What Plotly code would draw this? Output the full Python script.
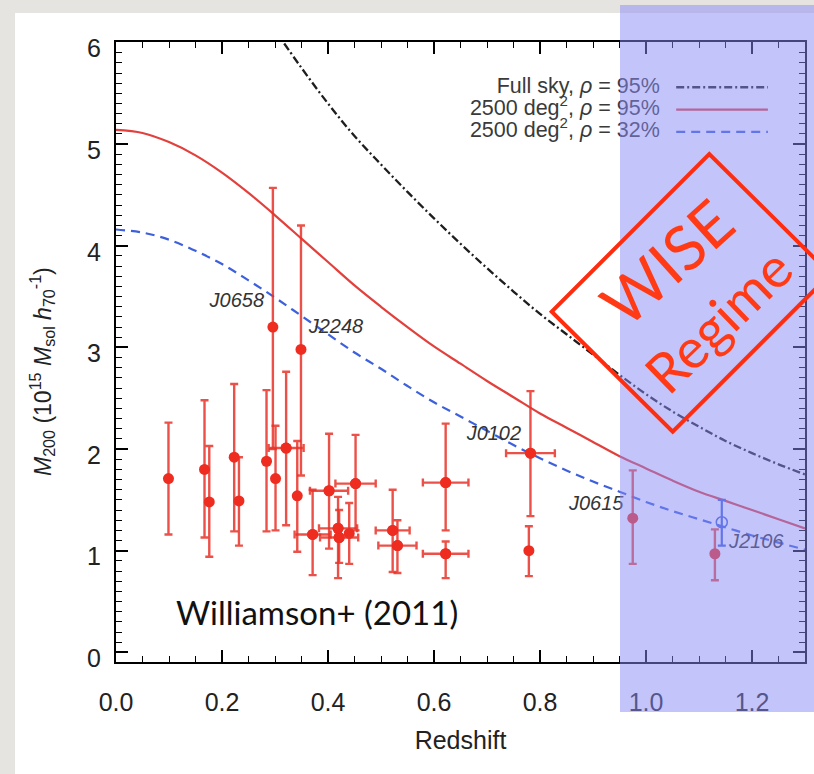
import plotly.graph_objects as go

# ---------------- data ----------------
z_curve = [0.00, 0.05, 0.10, 0.15, 0.20, 0.25, 0.30, 0.35, 0.40, 0.45, 0.50, 0.55, 0.60,
           0.65, 0.70, 0.75, 0.80, 0.85, 0.90, 0.95, 1.00, 1.05, 1.10, 1.15, 1.20, 1.25, 1.30]
m_2500_95 = [5.14, 5.11, 5.02, 4.89, 4.72, 4.52, 4.30, 4.07, 3.84, 3.61, 3.40, 3.20, 3.01,
             2.84, 2.67, 2.51, 2.35, 2.21, 2.07, 1.93, 1.81, 1.69, 1.58, 1.49, 1.40, 1.31, 1.22]
m_2500_32 = [4.16, 4.13, 4.06, 3.95, 3.82, 3.66, 3.49, 3.31, 3.13, 2.95, 2.79, 2.62, 2.46,
             2.32, 2.18, 2.04, 1.91, 1.79, 1.68, 1.58, 1.48, 1.39, 1.31, 1.23, 1.15, 1.08, 1.01]
z_full = [0.30, 0.35, 0.40, 0.45, 0.50, 0.55, 0.60, 0.65, 0.70, 0.75, 0.80,
          0.85, 0.90, 0.95, 1.00, 1.05, 1.10, 1.15, 1.20, 1.25, 1.30]
m_full_95 = [6.12, 5.75, 5.40, 5.08, 4.80, 4.53, 4.27, 4.02, 3.78, 3.55, 3.33,
             3.13, 2.93, 2.73, 2.54, 2.37, 2.22, 2.08, 1.96, 1.85, 1.75]

cl_z = [0.099, 0.167, 0.176, 0.223, 0.232, 0.284, 0.296, 0.301, 0.321, 0.342, 0.349, 0.371, 0.402,
        0.419, 0.421, 0.440, 0.452, 0.522, 0.531, 0.622, 0.622, 0.779, 0.782, 0.975, 1.130]
cl_m = [1.71, 1.80, 1.48, 1.92, 1.49, 1.88, 3.20, 1.71, 2.01, 1.54, 2.98, 1.16, 1.59,
        1.22, 1.13, 1.17, 1.66, 1.20, 1.05, 1.67, 0.97, 1.00, 1.96, 1.32, 0.97]
cl_m_hi = [2.26, 2.48, 2.03, 2.64, 1.92, 2.58, 4.57, 2.23, 2.76, 2.08, 4.20, 1.60, 2.15,
           1.53, 1.40, 1.47, 2.14, 1.60, 1.30, 2.25, 1.09, 1.24, 2.57, 1.79, 1.21]
cl_m_lo = [1.16, 1.13, 0.94, 1.19, 1.05, 1.19, 2.00, 1.20, 1.25, 0.99, 1.74, 0.76, 1.02,
           0.73, 0.88, 0.87, 1.20, 0.79, 0.78, 1.20, 0.73, 0.75, 1.34, 0.87, 0.71]
cl_zerr = [0, 0, 0, 0, 0, 0, 0, 0, 0.033, 0, 0, 0.034, 0.036,
           0.036, 0.036, 0, 0.038, 0.032, 0.036, 0.043, 0.043, 0, 0.046, 0, 0]

alt_z = [1.143]
alt_m = [1.28]
alt_m_hi = [1.50]
alt_m_lo = [1.05]

label_names = ["J0658", "J2248", "J0102", "J0615", "J2106"]
label_z = [0.228, 0.415, 0.713, 0.906, 1.208]
label_m = [3.45, 3.19, 2.14, 1.45, 1.08]

legend_labels = ["Full sky, <i>ρ</i> = 95%",
                 "2500 deg<sup>2</sup>, <i>ρ</i> = 95%",
                 "2500 deg<sup>2</sup>, <i>ρ</i> = 32%"]
legend_rows = [5.56, 5.34, 5.12]
legend_text_z = 1.026
legend_line_z = [1.057, 1.230]

# ---------------- styles ----------------
RED = "#e2403c"
PT = "#ee2c20"
BLUE = "#3d60dc"
BLACK = "#1e1e1e"
DASHDOT = "8px,3px,2px,3px"
DASHED = "9px,6px"

fig = go.Figure()

fig.add_trace(go.Scatter(x=z_full, y=m_full_95, mode="lines",
                         line=dict(color=BLACK, width=2.3, dash=DASHDOT, shape="spline"),
                         showlegend=False, hoverinfo="skip"))
fig.add_trace(go.Scatter(x=z_curve, y=m_2500_95, mode="lines",
                         line=dict(color=RED, width=2.2, shape="spline"),
                         showlegend=False, hoverinfo="skip"))
fig.add_trace(go.Scatter(x=z_curve, y=m_2500_32, mode="lines",
                         line=dict(color=BLUE, width=2.2, dash=DASHED, shape="spline"),
                         showlegend=False, hoverinfo="skip"))

# legend drawn by hand (text left, line right)
styles = [dict(color=BLACK, width=2.3, dash=DASHDOT),
          dict(color=RED, width=2.2),
          dict(color=BLUE, width=2.2, dash=DASHED)]
for lab, yy, st in zip(legend_labels, legend_rows, styles):
    fig.add_trace(go.Scatter(x=[legend_text_z], y=[yy], mode="text", text=[lab],
                             textposition="middle left",
                             textfont=dict(family="Liberation Sans", size=21.5, color="#3a3a3a"),
                             showlegend=False, hoverinfo="skip", cliponaxis=False))
    fig.add_trace(go.Scatter(x=legend_line_z, y=[yy, yy], mode="lines", line=st,
                             showlegend=False, hoverinfo="skip"))

# cluster points: vertical errors
err_plus = [h - m for h, m in zip(cl_m_hi, cl_m)]
err_minus = [m - l for l, m in zip(cl_m_lo, cl_m)]
fig.add_trace(go.Scatter(
    x=cl_z, y=cl_m, mode="markers",
    marker=dict(color=PT, size=11),
    error_y=dict(type="data", symmetric=False, array=err_plus, arrayminus=err_minus,
                 color="rgba(232,50,40,0.85)", thickness=2.4, width=4),
    showlegend=False, hoverinfo="skip"))
# horizontal errors where present
hx = [z for z, e in zip(cl_z, cl_zerr) if e > 0]
hy = [m for m, e in zip(cl_m, cl_zerr) if e > 0]
he = [e for e in cl_zerr if e > 0]
fig.add_trace(go.Scatter(
    x=hx, y=hy, mode="markers",
    marker=dict(color=PT, size=11),
    error_x=dict(type="data", array=he, color="rgba(232,50,40,0.85)", thickness=2.4, width=4),
    showlegend=False, hoverinfo="skip"))

# alternative (blue) estimate for J2106
fig.add_trace(go.Scatter(
    x=alt_z, y=alt_m, mode="markers",
    marker=dict(color="rgba(0,0,0,0)", size=11, line=dict(color=BLUE, width=1.5)),
    error_y=dict(type="data", symmetric=False,
                 array=[alt_m_hi[0] - alt_m[0]], arrayminus=[alt_m[0] - alt_m_lo[0]],
                 color=BLUE, thickness=2.2, width=4),
    showlegend=False, hoverinfo="skip"))

# cluster name labels
fig.add_trace(go.Scatter(x=label_z, y=label_m, mode="text",
                         text=["<i>%s</i>" % n for n in label_names],
                         textfont=dict(family="Liberation Sans", size=20, color="#333333"),
                         showlegend=False, hoverinfo="skip", cliponaxis=False))

fig.add_annotation(x=0.380, y=0.40, xref="x", yref="y", text="Williamson+ (2011)",
                   showarrow=False, xanchor="center", yanchor="middle",
                   font=dict(family="Lato", size=33, color="#111111"))

# ---------------- layout ----------------
L, R, T, B = 116, 9, 42, 112
W, H = 814, 774
pw, ph = W - L - R, H - T - B


def px2paper_x(p):
    return (p - L) / pw


def px2paper_y(p):
    return (H - B - p) / ph


shapes = []
# white card over the textured grey page
shapes.append(dict(type="rect", xref="paper", yref="paper", layer="below",
                   x0=px2paper_x(15), x1=px2paper_x(830), y0=px2paper_y(800), y1=px2paper_y(13),
                   fillcolor="white", line=dict(width=0)))
# WISE regime shading
shapes.append(dict(type="rect", xref="paper", yref="paper", layer="above",
                   x0=px2paper_x(620), x1=px2paper_x(830), y0=px2paper_y(712), y1=px2paper_y(5),
                   fillcolor="rgba(135,138,245,0.5)", line=dict(width=0)))
# tilted box
corners = [(551.7, 311.7), (709.3, 154.0), (830.3, 274.0), (672.7, 431.7)]
path = "M " + " L ".join("%.4f %.4f" % (px2paper_x(a), px2paper_y(b)) for a, b in corners) + " Z"
shapes.append(dict(type="path", xref="paper", yref="paper", layer="above", path=path,
                   line=dict(color="#ff2d10", width=4)))

fig.add_annotation(x=px2paper_x(666), y=px2paper_y(262), xref="paper", yref="paper",
                   text="WISE", showarrow=False, textangle=-42,
                   xanchor="center", yanchor="middle",
                   font=dict(family="Lato", size=62, color="#ff3a14"))
fig.add_annotation(x=px2paper_x(718), y=px2paper_y(320), xref="paper", yref="paper",
                   text="Regime", showarrow=False, textangle=-44,
                   xanchor="center", yanchor="middle",
                   font=dict(family="Lato", size=55, color="#ff3a14"))

# y-axis title
fig.add_annotation(x=px2paper_x(42), y=px2paper_y(372), xref="paper", yref="paper",
                   text="<i>M</i><sub>200</sub> (10<sup>15</sup> <i>M</i><sub>sol</sub> <i>h</i><sub>70</sub><sup>-1</sup>)",
                   showarrow=False, textangle=-90, xanchor="center", yanchor="middle",
                   font=dict(family="Liberation Sans", size=23, color="#222222"))

axis_common = dict(showline=True, linecolor="black", linewidth=2, mirror="allticks",
                   ticks="inside", tickcolor="black", tickwidth=1.6, ticklen=12,
                   showgrid=False, zeroline=False,
                   tickfont=dict(family="Liberation Sans", size=25, color="#222222"))

fig.update_layout(
    width=W, height=H,
    margin=dict(l=L, r=R, t=T, b=B, autoexpand=False),
    paper_bgcolor="#e6e4e1", plot_bgcolor="white",
    shapes=shapes,
    xaxis=dict(range=[0, 1.3], dtick=0.2, tick0=0, tickformat=".1f",
               minor=dict(dtick=0.05, ticks="inside", ticklen=6, tickcolor="black", tickwidth=1.4),
               ticklabelstandoff=17,
               title=dict(text="Redshift", standoff=16,
                          font=dict(family="Liberation Sans", size=25, color="#222222")),
               **axis_common),
    yaxis=dict(range=[-0.095, 6.005], dtick=1, tick0=0,
               minor=dict(dtick=0.1, ticks="inside", ticklen=6, tickcolor="black", tickwidth=1.4),
               ticklabelstandoff=8, ticklabelshift=6,
               **axis_common),
    showlegend=False,
)

fig.write_html("out.html")
